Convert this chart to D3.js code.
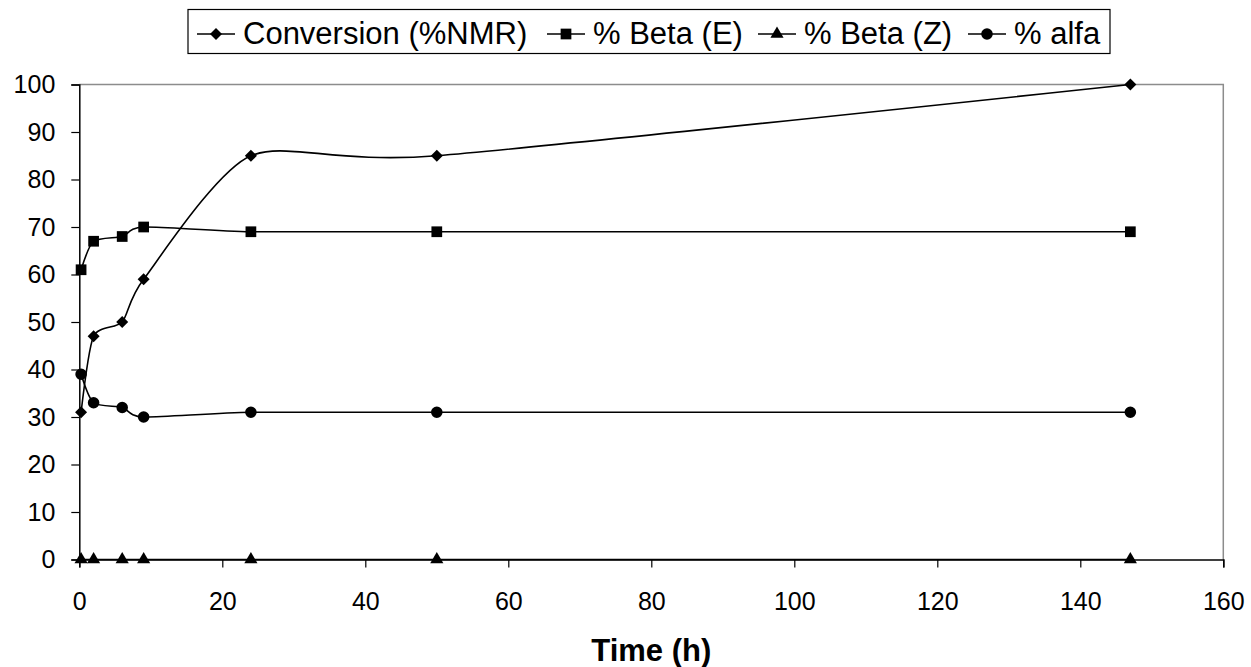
<!DOCTYPE html>
<html>
<head>
<meta charset="utf-8">
<script src="https://cdn.jsdelivr.net/npm/d3@7"></script>
<style>
  html, body { margin: 0; padding: 0; background: #fff; }
  svg { display: block; font-family: "Liberation Sans", Arial, sans-serif; }
</style>
</head>
<body>
<svg id="chart" width="1251" height="667"></svg>
<script>
// Sampling times (h)
const times = [0.25, 2, 6, 9, 24, 50, 147];

// Series values (%)
const conversion = [31, 47, 50, 59, 85, 85, 100];
const betaE = [61, 67, 68, 70, 69, 69, 69];
const betaZ = [0, 0, 0, 0, 0, 0, 0];
const alfa = [39, 33, 32, 30, 31, 31, 31];

const seriesNames = ["Conversion (%NMR)", "% Beta (E)", "% Beta (Z)", "% alfa"];
const seriesSymbols = ["diamond", "square", "triangle", "circle"];

const xTicks = [0, 20, 40, 60, 80, 100, 120, 140, 160];
const yTicks = [0, 10, 20, 30, 40, 50, 60, 70, 80, 90, 100];
const xTitle = "Time (h)";

const series = [conversion, betaE, betaZ, alfa].map((vals, i) => ({
  name: seriesNames[i],
  symbol: seriesSymbols[i],
  points: vals.map((v, j) => ({ t: times[j], v }))
}));

const svg = d3.select("#chart");
const plotLeft = 79.3, plotRight = 1223.3, plotTop = 84.5, plotBottom = 559.5;

const x = d3.scaleLinear().domain([0, 160]).range([plotLeft, plotRight]);
const y = d3.scaleLinear().domain([0, 100]).range([plotBottom, plotTop]);

// Plot frame: grey top and right edges
svg.append("path")
  .attr("d", `M${plotLeft},${plotTop}H${plotRight}V${plotBottom}`)
  .attr("fill", "none")
  .attr("stroke", "#8c8c8c")
  .attr("stroke-width", 1.5);

// Y axis
const yAxis = svg.append("g")
  .attr("transform", `translate(${plotLeft},0)`)
  .call(d3.axisLeft(y).tickValues(yTicks).tickSize(8).tickPadding(16));
yAxis.selectAll("text").attr("font-size", 25).attr("fill", "#000")
  .attr("font-family", "Liberation Sans, Arial, sans-serif");

// X axis
const xAxis = svg.append("g")
  .attr("transform", `translate(0,${plotBottom})`)
  .call(d3.axisBottom(x).tickValues(xTicks).tickSize(8).tickPadding(25));
xAxis.selectAll("text").attr("font-size", 25).attr("fill", "#000")
  .attr("font-family", "Liberation Sans, Arial, sans-serif");

[yAxis, xAxis].forEach(a => {
  a.select(".domain").attr("stroke", "#000").attr("stroke-width", 1.5);
  a.selectAll(".tick line").attr("stroke", "#000").attr("stroke-width", 1.2);
});

// Axis title
svg.append("text")
  .attr("x", (plotLeft + plotRight) / 2)
  .attr("y", 661)
  .attr("text-anchor", "middle")
  .attr("font-size", 31)
  .attr("font-weight", "bold")
  .text(xTitle);

// Marker shapes
const symbolType = {
  square: d3.symbolSquare,
  triangle: d3.symbolTriangle,
  circle: d3.symbolCircle
};
const symbolSize = { square: 115, triangle: 75, circle: 105 };
function drawSymbol(g, kind, cx, cy) {
  if (kind === "diamond") {
    const r = 6;
    g.append("path")
      .attr("d", `M${cx},${cy - r}L${cx + r},${cy}L${cx},${cy + r}L${cx - r},${cy}Z`)
      .attr("fill", "#000");
  } else {
    g.append("path")
      .attr("transform", `translate(${cx},${cy})`)
      .attr("d", d3.symbol().type(symbolType[kind]).size(symbolSize[kind])())
      .attr("fill", "#000");
  }
}

// Smoothed series lines with markers
const line = d3.line()
  .x(d => x(d.t))
  .y(d => y(d.v))
  .curve(d3.curveCardinal.tension(0.3));

series.forEach(s => {
  const g = svg.append("g");
  g.append("path")
    .attr("d", line(s.points))
    .attr("fill", "none")
    .attr("stroke", "#000")
    .attr("stroke-width", 1.6);
  s.points.forEach(p => drawSymbol(g, s.symbol, x(p.t), y(p.v)));
});

// Legend
const legend = svg.append("g");
legend.append("rect")
  .attr("x", 188).attr("y", 9.5)
  .attr("width", 922).attr("height", 44)
  .attr("fill", "#fff").attr("stroke", "#000").attr("stroke-width", 1.2);

const legendItemX = [197, 547, 758, 968];
series.forEach((s, i) => {
  const lx = legendItemX[i], ly = 34;
  legend.append("line")
    .attr("x1", lx).attr("x2", lx + 38)
    .attr("y1", ly).attr("y2", ly)
    .attr("stroke", "#000").attr("stroke-width", 1.6);
  drawSymbol(legend, s.symbol, lx + 19, ly);
  legend.append("text")
    .attr("x", lx + 46)
    .attr("y", 44)
    .attr("font-size", 31)
    .text(s.name);
});
</script>
</body>
</html>
